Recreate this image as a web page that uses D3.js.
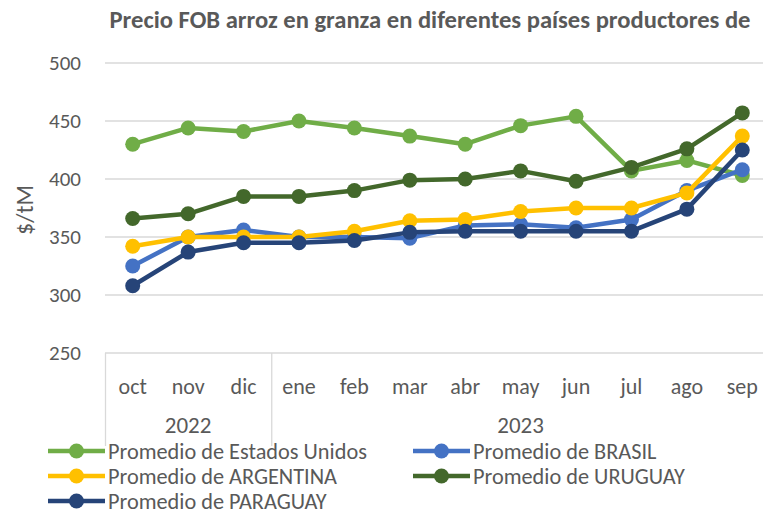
<!DOCTYPE html>
<html lang="es">
<head>
<meta charset="UTF-8">
<title>Precio FOB arroz en granza</title>
<style>
  body { margin: 0; background: #fff; }
  svg text { font-family: Carlito, Lato, "Noto Sans", sans-serif; fill: #595959; }
</style>
</head>
<body>
<svg id="chart" width="763" height="514"></svg>
<script src="https://d3js.org/d3.v7.min.js"></script>
<script>
const months = ["oct", "nov", "dic", "ene", "feb", "mar", "abr", "may", "jun", "jul", "ago", "sep"];
const years = [{ label: "2022", from: 0, to: 2 }, { label: "2023", from: 3, to: 11 }];
const yTicks = [250, 300, 350, 400, 450, 500];

const estadosUnidos = [430, 444, 441, 450, 444, 437, 430, 446, 454, 407, 416, 403];
const brasil       = [325, 350, 356, 350, 350, 349, 360, 361, 358, 365, 390, 408];
const argentina    = [342, 350, 350, 350, 355, 364, 365, 372, 375, 375, 388, 437];
const uruguay      = [366, 370, 385, 385, 390, 399, 400, 407, 398, 410, 426, 457];
const paraguay     = [308, 337, 345, 345, 347, 354, 355, 355, 355, 355, 374, 425];

const series = [
  { name: "Promedio de Estados Unidos", values: estadosUnidos, color: "#70ad47" },
  { name: "Promedio de BRASIL", values: brasil, color: "#4472c4" },
  { name: "Promedio de ARGENTINA", values: argentina, color: "#ffc000" },
  { name: "Promedio de URUGUAY", values: uruguay, color: "#43682b" },
  { name: "Promedio de PARAGUAY", values: paraguay, color: "#264478" }
];
// drawing order (back to front)
const drawOrder = [0, 1, 3, 2, 4];

const svg = d3.select("#chart");
const plotLeft = 105, plotRight = 770, plotTop = 63, plotBottom = 353;

const x = d3.scaleBand().domain(months).range([plotLeft, plotRight]);
const y = d3.scaleLinear().domain([250, 500]).range([plotBottom, plotTop]);

// title
svg.append("text")
  .attr("x", 430).attr("y", 28)
  .attr("text-anchor", "middle")
  .style("font-size", "24.6px").style("font-weight", "bold")
  .text("Precio FOB arroz en granza en diferentes países productores de");

// gridlines
svg.append("g").selectAll("line")
  .data(yTicks)
  .join("line")
  .attr("x1", plotLeft).attr("x2", 763)
  .attr("y1", d => y(d)).attr("y2", d => y(d))
  .attr("stroke", "#d9d9d9").attr("stroke-width", 1.3);

// y axis labels
svg.append("g").selectAll("text")
  .data(yTicks)
  .join("text")
  .attr("x", 81).attr("y", d => y(d))
  .attr("dy", "0.35em")
  .attr("text-anchor", "end")
  .style("font-size", "21px")
  .text(d => d);

svg.append("text")
  .attr("transform", `translate(33,210) rotate(-90)`)
  .attr("text-anchor", "middle")
  .style("font-size", "24px")
  .text("$/tM");

// month labels
svg.append("g").selectAll("text")
  .data(months)
  .join("text")
  .attr("x", d => x(d) + x.bandwidth() / 2)
  .attr("y", 394)
  .attr("text-anchor", "middle")
  .style("font-size", "22px")
  .text(d => d);

// year labels and separators
svg.append("g").selectAll("text")
  .data(years)
  .join("text")
  .attr("x", d => (x(months[d.from]) + x(months[d.to]) + x.bandwidth()) / 2)
  .attr("y", 433)
  .attr("text-anchor", "middle")
  .style("font-size", "23px")
  .text(d => d.label);

svg.append("g").selectAll("line")
  .data(years)
  .join("line")
  .attr("x1", d => x(months[d.from]) + 0.5).attr("x2", d => x(months[d.from]) + 0.5)
  .attr("y1", plotBottom).attr("y2", 446)
  .attr("stroke", "#d9d9d9").attr("stroke-width", 1.3);

// lines and markers
const line = d3.line()
  .x((d, i) => x(months[i]) + x.bandwidth() / 2)
  .y(d => y(d));

const plot = svg.append("g");
drawOrder.forEach(k => {
  const s = series[k];
  const g = plot.append("g");
  g.append("path")
    .attr("d", line(s.values))
    .attr("fill", "none")
    .attr("stroke", s.color)
    .attr("stroke-width", 4.5)
    .attr("stroke-linejoin", "round");
  g.selectAll("circle")
    .data(s.values)
    .join("circle")
    .attr("cx", (d, i) => x(months[i]) + x.bandwidth() / 2)
    .attr("cy", d => y(d))
    .attr("r", 7.5)
    .attr("fill", s.color);
});

// legend
const legendPos = [[48, 451], [413, 451], [48, 476], [413, 476], [48, 501]];
const legend = svg.append("g");
series.forEach((s, i) => {
  const [lx, ly] = legendPos[i];
  const item = legend.append("g").attr("transform", `translate(${lx},${ly})`);
  item.append("line")
    .attr("x1", 0).attr("x2", 57)
    .attr("stroke", s.color).attr("stroke-width", 4.5);
  item.append("circle").attr("cx", 28.5).attr("r", 7.5).attr("fill", s.color);
  item.append("text")
    .attr("x", 60).attr("y", 8)
    .style("font-size", "22.3px")
    .text(s.name);
});
</script>
</body>
</html>
